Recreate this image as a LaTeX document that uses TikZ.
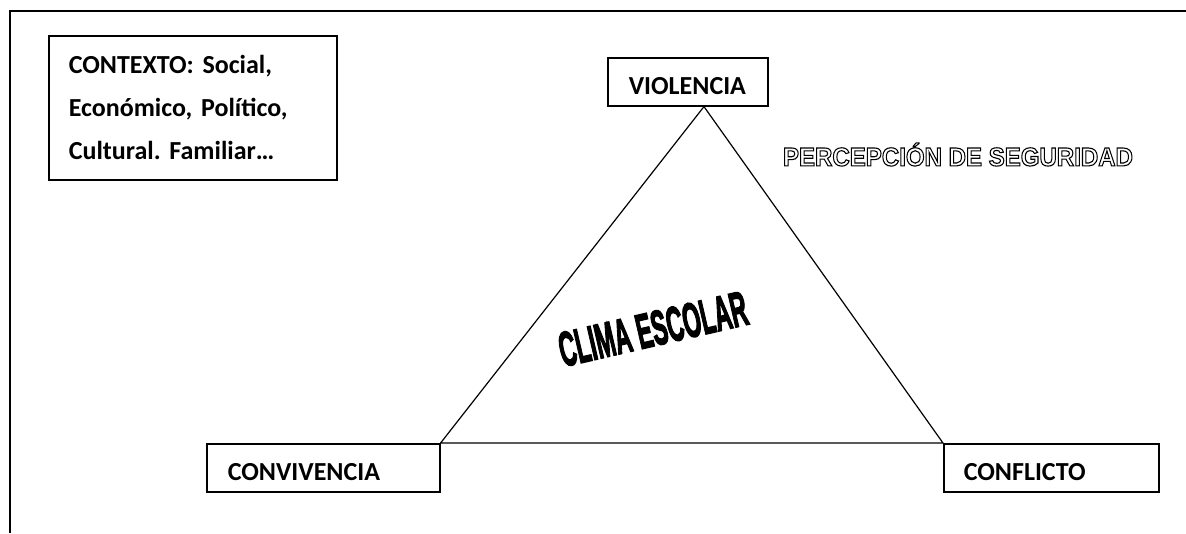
\documentclass[tikz,border=0pt]{standalone}
\usepackage{fontspec}
\usepackage{graphicx}
\usetikzlibrary{calc}
\setmainfont{Carlito}
\newfontfamily\outlinefont{Liberation Sans}
\newfontfamily\climafont{Liberation Sans}[FakeBold=3.5]
\frenchspacing
% texto hueco (solo contorno)
\newcommand\hollowtext[1]{\special{pdf:literal direct 1 Tr 1.1 w}#1\special{pdf:literal direct 0 Tr 1 w}}
\tikzset{
    labelbox/.style={draw, line width=1.6pt, anchor=north west, inner ysep=0pt, align=left,
        font=\bfseries\fontsize{26}{43}\selectfont},
    onelinebox/.style={labelbox, text height=25pt, text depth=0pt},
    triline/.style={line width=1.2pt, line join=miter}
}
\begin{document}
\begin{tikzpicture}[x=1pt, y=-1pt]
    \useasboundingbox (0,0) rectangle (1186,533);
    % --- marco ---
    \draw[line width=1.8pt] (10,533) -- (10,11) -- (1186,11);

    % --- cajas ---
    \node[labelbox, inner xsep=20pt, text width=248pt, minimum height=144pt] (contexto) at (48,35)
        {CONTEXTO: Social,\\Económico, Político,\\Cultural. Familiar…};
    \node[onelinebox, inner xsep=21pt, text width=118pt, minimum height=48pt] (violencia) at (607,57) {VIOLENCIA};
    \node[onelinebox, inner xsep=21pt, text width=191pt, minimum height=48pt] (convivencia) at (206,443) {CONVIVENCIA};
    \node[onelinebox, inner xsep=20pt, text width=175pt, minimum height=48pt] (conflicto) at (943,443) {CONFLICTO};

    % --- triangulo ---
    \coordinate (apex) at ($(violencia.south west)!0.6!(violencia.south east)$);
    \draw[triline] (apex) -- (convivencia.north east) -- (conflicto.north west) -- cycle;

    % --- textos ---
    \node[inner sep=0pt] (percepcion) at (958,154.5)
        {\resizebox{350pt}{23pt}{\outlinefont\bfseries\fontsize{26}{26}\selectfont\hollowtext{PERCEPCIÓN DE SEGURIDAD}}};
    \node[rotate=13] (clima) at (653,329)
        {\resizebox{192pt}{34pt}{\climafont\bfseries CLIMA ESCOLAR}};
\end{tikzpicture}
\end{document}
